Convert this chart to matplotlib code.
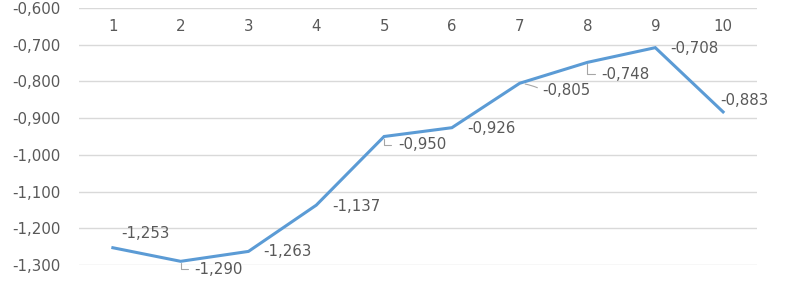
import numpy as np
import matplotlib.pyplot as plt

# dados
categorias = [1, 2, 3, 4, 5, 6, 7, 8, 9, 10]
valores = [-1.253, -1.290, -1.263, -1.137, -0.950, -0.926, -0.805, -0.748, -0.708, -0.883]

def fmt(v):
    return f"{v:.3f}".replace(".", ",")

# deslocamento dos rótulos (pixels) e se tem linha de chamada
offsets = [(8, 14), (14, -8), (15, 0), (16, -1), (14, -8), (15, -1), (23, -7), (14, -12), (15, -1), (-3, 11)]
leaders = [None, "angle", None, None, "angle", None, "arc3", "angle", None, None]

plt.rcParams['font.family'] = ['DejaVu Sans']
cinza = '#595959'
tam = 10.8

fig = plt.figure(figsize=(7.92, 2.82), dpi=100)
ax = fig.add_axes([0.0997, 0.0603, 0.8561, 0.9113])

ax.plot(categorias, valores, color='#5b9bd5', linewidth=2.2, solid_joinstyle='miter', zorder=3)

ax.set_xlim(0.5, 10.5)
ax.set_ylim(-1.3, -0.6)
ax.set_yticks(np.arange(-1.3, -0.55, 0.1))
ax.set_yticklabels([fmt(t) for t in np.arange(-1.3, -0.55, 0.1)])
ax.set_xticks(categorias)
ax.set_xticklabels([str(c) for c in categorias])

ax.grid(axis='y', color='#d9d9d9', linewidth=1)
ax.set_axisbelow(True)
for s in ax.spines.values():
    s.set_visible(False)

ax.tick_params(axis='y', length=0, pad=13, labelsize=tam, labelcolor=cinza)
ax.tick_params(axis='x', length=0, bottom=False, top=False, labelbottom=False,
               labeltop=True, pad=-19, labelsize=tam, labelcolor=cinza)

for x, v, (dx, dy), ld in zip(categorias, valores, offsets, leaders):
    props = None
    if ld == "angle":
        props = dict(arrowstyle='-', color='#a6a6a6', lw=0.8, relpos=(0, 0.5),
                     connectionstyle='angle,angleA=0,angleB=90,rad=0', shrinkA=3, shrinkB=1.5)
    elif ld == "arc3":
        props = dict(arrowstyle='-', color='#a6a6a6', lw=0.8, relpos=(0, 0.5),
                     connectionstyle='arc3,rad=0.1', shrinkA=2, shrinkB=4)
    ax.annotate(fmt(v), xy=(x, v), xytext=(dx, dy), textcoords='offset pixels',
                ha='left', va='center', fontsize=tam, color=cinza, arrowprops=props)

fig.savefig('out.png', dpi=100)
